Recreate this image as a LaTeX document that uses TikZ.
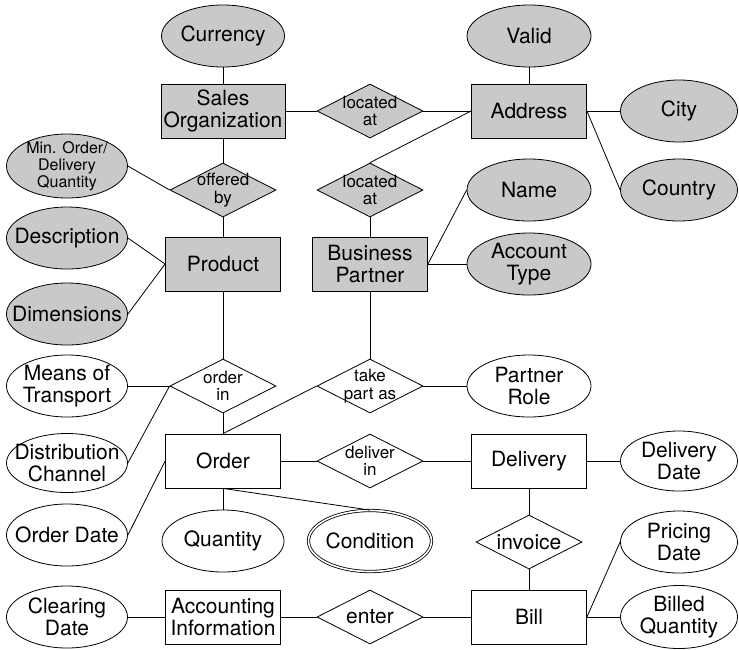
\documentclass[tikz,border=0pt]{standalone}
\usepackage{fontspec}
\setmainfont{TeX Gyre Heros}
\usetikzlibrary{shapes.geometric}
\definecolor{shade}{gray}{0.79}
\begin{document}
\begin{tikzpicture}[x=1pt,y=-1pt,
  base/.style={draw, line width=0.8pt, inner sep=0pt},
  entity/.style={base, rectangle, minimum width=115pt, minimum height=54pt,
    align=center, font=\fontsize{21}{22}\selectfont},
  attr/.style={base, ellipse, minimum width=122pt, minimum height=62pt},
  rel/.style={base, diamond, minimum width=106pt, minimum height=54pt},
  big/.style={font=\fontsize{21}{22}\selectfont, align=center},
  small/.style={font=\fontsize{17}{17.5}\selectfont, align=center},
  tiny/.style={font=\fontsize{16}{17}\selectfont, align=center},
  grey/.style={fill=shade},
  plain/.style={fill=white},
  link/.style={line width=0.8pt}]

\useasboundingbox (0,0) rectangle (739,649);

% master data (shaded)
\node[attr, grey, minimum width=123pt, label={[big]center:Currency}] (cur) at (223,36) {};
\node[entity, grey, minimum width=124pt] (salesorg) at (223,111) {Sales\\Organization};
\node[rel, grey, label={[small]center:located\\at}] (loc1) at (370,111) {};
\node[attr, grey, minimum width=124pt, label={[big]center:Valid}] (valid) at (529,36) {};
\node[entity, grey] (addr) at (529,111) {Address};
\node[attr, grey, minimum width=117pt, label={[big]center:City}] (city) at (679,111) {};
\node[attr, grey, minimum width=117pt, label={[big]center:Country}] (country) at (679,190) {};
\node[attr, grey, minimum width=121pt, minimum height=64pt, label={[tiny]center:Min. Order/\\Delivery\\Quantity}] (minord) at (67,166) {};
\node[rel, grey, label={[small]center:offered\\by}] (offby) at (223,190) {};
\node[rel, grey, label={[small]center:located\\at}] (loc2) at (370,190) {};
\node[attr, grey, minimum width=124pt, label={[big]center:Name}] (name) at (529,190) {};
\node[attr, grey, minimum width=121pt, label={[big]center:Description}] (desc) at (67,238) {};
\node[entity, grey] (prod) at (223,264) {Product};
\node[entity, grey] (bp) at (370,264) {Business\\Partner};
\node[attr, grey, minimum width=124pt, label={[big]center:Account\\Type}] (acct) at (529,264) {};
\node[attr, grey, minimum width=121pt, label={[big]center:Dimensions}] (dim) at (67,314) {};

% transactional data (white)
\node[attr, plain, minimum width=121pt, label={[big]center:Means of\\Transport}] (means) at (67,386) {};
\node[rel, plain, label={[small]center:order\\in}] (ordin) at (223,386) {};
\node[rel, plain, label={[small]center:take\\part as}] (tp) at (370,386) {};
\node[attr, plain, minimum width=124pt, label={[big]center:Partner\\Role}] (role) at (529,386) {};
\node[attr, plain, minimum width=121pt, minimum height=59pt, label={[big]center:Distribution\\Channel}] (dist) at (67,463) {};
\node[entity, plain] (order) at (223,461) {Order};
\node[rel, plain, label={[small]center:deliver\\in}] (delin) at (370,461) {};
\node[entity, plain] (deliv) at (529,461) {Delivery};
\node[attr, plain, minimum width=117pt, minimum height=60pt, label={[big]center:Delivery\\Date}] (deldate) at (679,461) {};
\node[attr, plain, minimum width=121pt, label={[big]center:Order Date}] (orddate) at (67,535) {};
\node[attr, plain, label={[big]center:Quantity}] (qty) at (223,541) {};
\node[attr, plain, minimum width=123pt, minimum height=61pt, double, double distance=1.6pt,
  label={[big]center:Condition}] (cond) at (370,541) {};
\node[rel, plain, label={[big]center:invoice}] (inv) at (529,542) {};
\node[attr, plain, minimum width=117pt, label={[big]center:Pricing\\Date}] (price) at (679,542) {};
\node[attr, plain, minimum width=121pt, label={[big]center:Clearing\\Date}] (clear) at (67,617) {};
\node[entity, plain] (acc) at (223,617) {Accounting\\Information};
\node[rel, plain, label={[big]center:enter}] (enter) at (370,617) {};
\node[entity, plain] (bill) at (529,617) {Bill};
\node[attr, plain, minimum width=117pt, minimum height=63pt, label={[big]center:Billed\\Quantity}] (billed) at (679,617) {};

% connectors
\draw[link] (cur) -- (salesorg);
\draw[link] (salesorg) -- (loc1.west);
\draw[link] (loc1.east) -- (addr);
\draw[link] (valid) -- (addr);
\draw[link] (addr.east) -- (city.west);
\draw[link] (addr.east) -- (country.west);
\draw[link] (loc2.north) -- (addr.west);
\draw[link] (salesorg) -- (offby.north);
\draw[link] (minord.east) -- (offby.west);
\draw[link] (offby.south) -- (prod);
\draw[link] (loc2.south) -- (bp);
\draw[link] (bp.east) -- (name.west);
\draw[link] (bp.east) -- (acct.west);
\draw[link] (desc.east) -- (prod.west);
\draw[link] (dim.east) -- (prod.west);
\draw[link] (prod) -- (ordin.north);
\draw[link] (means.east) -- (ordin.west);
\draw[link] (dist.east) -- (ordin.west);
\draw[link] (ordin.south) -- (order);
\draw[link] (bp) -- (tp.north);
\draw[link] (tp.west) -- (order.north);
\draw[link] (tp.east) -- (role.west);
\draw[link] (order) -- (delin.west);
\draw[link] (delin.east) -- (deliv);
\draw[link] (deliv) -- (deldate.west);
\draw[link] (orddate.east) -- (order.west);
\draw[link] (order.south) -- (qty.north);
\draw[link] (order.south) -- (cond.north);
\draw[link] (deliv) -- (inv.north);
\draw[link] (inv.south) -- (bill);
\draw[link] (bill.east) -- (price.west);
\draw[link] (bill.east) -- (billed.west);
\draw[link] (clear) -- (acc);
\draw[link] (acc) -- (enter.west);
\draw[link] (enter.east) -- (bill);
\end{tikzpicture}
\end{document}
